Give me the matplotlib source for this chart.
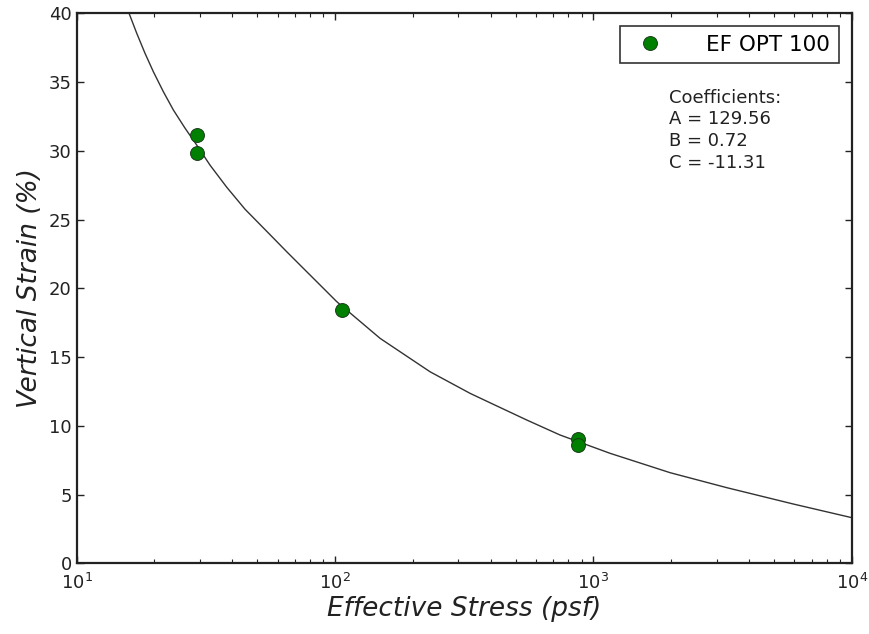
import matplotlib
matplotlib.use('Agg')
import matplotlib.pyplot as plt

# measured points
stress = [29.3, 29.3, 106.1, 875, 875]
strain = [31.13, 29.82, 18.42, 9.02, 8.60]

# fitted curve
curve_stress = [15.98, 17.07, 18.38, 19.80, 21.64, 23.66, 26.27, 28.97, 32.83, 38.08,
                44.83, 56.02, 65.0, 75.4, 87.5, 101.5, 149.4, 233.2, 333.2, 410.2,
                552.4, 743.2, 1160, 1982, 3285, 5947, 10000]
curve_strain = [39.95, 38.55, 37.09, 35.75, 34.30, 32.97, 31.64, 30.49, 28.95, 27.35,
                25.75, 23.90, 22.66, 21.45, 20.24, 19.03, 16.36, 13.93, 12.36, 11.56,
                10.42, 9.33, 8.0, 6.59, 5.50, 4.31, 3.32]

coef_names = ['A', 'B', 'C']
coef_values = ['129.56', '0.72', '-11.31']

plt.rcParams['font.family'] = 'DejaVu Sans'
plt.rcParams['xtick.direction'] = 'in'
plt.rcParams['ytick.direction'] = 'in'

fig = plt.figure(figsize=(8.7, 6.34), dpi=100, facecolor='white')
ax = fig.add_axes([0.0882, 0.1115, 0.8908, 0.8675])

ax.plot(curve_stress, curve_strain, color='#333333', linewidth=1.0)
ax.plot(stress, strain, 'o', color='#008000', markeredgecolor='#1a3d1a',
        markersize=10, markeredgewidth=0.7, label='EF OPT 100')

ax.set_xscale('log')
ax.set_xlim(10, 10000)
ax.set_ylim(0, 40)
ax.set_yticks(range(0, 41, 5))

ax.tick_params(which='both', top=True, right=True, labelsize=13, colors='#222222')
ax.tick_params(which='major', length=5, width=1)
ax.tick_params(which='minor', length=3, width=0.8)
ax.tick_params(axis='x', pad=7)
for s in ax.spines.values():
    s.set_linewidth(1.6)
    s.set_color('#222222')

ax.set_xlabel('Effective Stress (psf)', fontsize=19, style='italic', color='#222222',
              labelpad=2)
ax.set_ylabel('Vertical Strain (%)', fontsize=19, style='italic', color='#222222')

leg = ax.legend(loc='upper right', numpoints=1, fontsize=15.5, fancybox=False,
                borderaxespad=0.6, handletextpad=1.6)
leg.get_frame().set_edgecolor('black')
leg.get_frame().set_linewidth(1.2)

txt = 'Coefficients:\n' + '\n'.join(n + ' = ' + v for n, v in zip(coef_names, coef_values))
ax.text(0.764, 0.863, txt, transform=ax.transAxes, fontsize=13, va='top', ha='left',
        color='#222222', linespacing=1.27)

fig.savefig('out.png', dpi=100)
